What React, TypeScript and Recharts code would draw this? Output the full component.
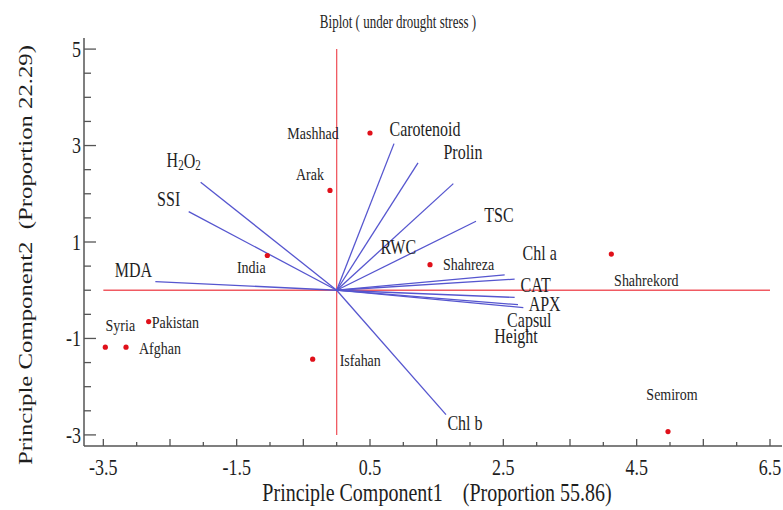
import React from "react";
import { ScatterChart, Scatter, XAxis, YAxis, ReferenceLine } from "recharts";

// genotype scores
const genotypes = ["India", "Arak", "Mashhad", "Pakistan", "Syria", "Afghan", "Isfahan", "Shahreza", "Shahrekord", "Semirom"];
const pc1Scores = [-1.04, -0.1, 0.5, -2.82, -3.47, -3.16, -0.36, 1.4, 4.12, 4.97];
const pc2Scores = [0.72, 2.07, 3.26, -0.65, -1.18, -1.18, -1.43, 0.53, 0.75, -2.93];

// trait loadings (vectors from origin)
const traits = ["H2O2", "SSI", "MDA", "Carotenoid", "Prolin", "RWC", "TSC", "Chl a", "CAT", "APX", "Capsul", "Height", "Chl b"];
const traitPc1 = [-2.04, -2.22, -2.72, 0.86, 1.22, 1.75, 2.09, 2.52, 2.67, 2.67, 2.8, 2.72, 1.64];
const traitPc2 = [2.24, 1.63, 0.18, 3.04, 2.64, 2.21, 1.43, 0.32, 0.23, -0.15, -0.36, -0.3, -2.58];

const xTicks = [-3.5, -3, -2.5, -2, -1.5, -1, -0.5, 0, 0.5, 1, 1.5, 2, 2.5, 3, 3.5, 4, 4.5, 5, 5.5, 6, 6.5];
const xTickLabels = [-3.5, -1.5, 0.5, 2.5, 4.5, 6.5];
const yTicks = [-3, -2.5, -2, -1.5, -1, -0.5, 0, 0.5, 1, 1.5, 2, 2.5, 3, 3.5, 4, 4.5, 5];
const yTickLabels = [-3, -1, 1, 3, 5];

const pointData = genotypes.map((name, i) => ({ name, x: pc1Scores[i], y: pc2Scores[i] }));
const traitData = traits.map((name, i) => ({ name, x: traitPc1[i], y: traitPc2[i] }));

// label placement in px relative to the mark: [dx, dy, anchor]
const pointLabelPos: Record<string, [number, number, string]> = {
  India: [-16, 11, "middle"],
  Arak: [-20, -16, "middle"],
  Mashhad: [-57, 0, "middle"],
  Pakistan: [3, 0, "start"],
  Syria: [15, -22, "middle"],
  Afghan: [13, 1, "start"],
  Isfahan: [27, 1, "start"],
  Shahreza: [13, -1, "start"],
  Shahrekord: [35, 26, "middle"],
  Semirom: [4, -38, "middle"],
};
const traitLabelPos: Record<string, [number, number]> = {
  H2O2: [-17, -22],
  SSI: [-20, -13],
  MDA: [-22, -12],
  Carotenoid: [31, -15],
  Prolin: [45, -11],
  RWC: [-55, 63],
  TSC: [23, -7],
  "Chl a": [35, -22],
  CAT: [21, 6],
  APX: [30, 6],
  Capsul: [6, 12],
  Height: [-2, 31],
  "Chl b": [19, 8],
};

const FONT = "'Liberation Serif', 'Times New Roman', serif";
const SY = 1.3;
const INK = "#1e1e1e";
const BLUE = "#5656cf";
const RED = "#f05a62";

function T({ x, y, size, anchor = "middle", sy = SY, central = true, children }: any) {
  return (
    <text
      transform={`translate(${x},${y}) scale(1,${sy})`}
      fontSize={size}
      fontFamily={FONT}
      fill={INK}
      textAnchor={anchor}
      dominantBaseline={central ? "central" : "auto"}
    >
      {children}
    </text>
  );
}

const BottomTick = (props: any) => {
  const { x, y, payload } = props;
  const v = payload.value;
  const major = Math.abs(((v + 3.5) % 1)) < 1e-6;
  return (
    <g>
      <line x1={x} x2={x} y1={y} y2={y - (major ? 7 : 4)} stroke="#555" strokeWidth={1.3} />
      {xTickLabels.includes(v) && (
        <T x={x} y={475} size={18} central={false}>{String(v)}</T>
      )}
    </g>
  );
};

const TopTick = (props: any) => {
  const { x, y, payload } = props;
  const major = Math.abs(((payload.value + 3.5) % 1)) < 1e-6;
  return <line x1={x} x2={x} y1={y} y2={y + (major ? 7 : 4)} stroke="#555" strokeWidth={1.3} />;
};

const LeftTick = (props: any) => {
  const { x, y, payload } = props;
  const v = payload.value;
  const major = yTickLabels.includes(v);
  return (
    <g>
      <line x1={x} x2={x + (major ? 12 : 7)} y1={y} y2={y} stroke="#555" strokeWidth={1.3} />
      {major && (
        <T x={x - 3} y={y} size={18} anchor="end">{String(v)}</T>
      )}
    </g>
  );
};

const RightTick = (props: any) => {
  const { x, y, payload } = props;
  const major = yTickLabels.includes(payload.value);
  return <line x1={x} x2={x - (major ? 7 : 4)} y1={y} y2={y} stroke="#555" strokeWidth={1.3} />;
};

const PointShape = (props: any) => {
  const { cx, cy, payload } = props;
  const [dx, dy, anchor] = pointLabelPos[payload.name];
  return (
    <g>
      <circle cx={cx} cy={cy} r={2.6} fill="#e0101a" />
      <T x={cx + dx} y={cy + dy} size={14} anchor={anchor} sy={1.25}>{payload.name}</T>
    </g>
  );
};

const TraitLabel = (props: any) => {
  const { cx, cy, payload } = props;
  const [dx, dy] = traitLabelPos[payload.name];
  if (payload.name === "H2O2") {
    return (
      <T x={cx + dx} y={cy + dy} size={16}>
        H<tspan fontSize={11} dy={4}>2</tspan>
        <tspan dy={-4}>O</tspan>
        <tspan fontSize={11} dy={4}>2</tspan>
      </T>
    );
  }
  return <T x={cx + dx} y={cy + dy} size={16}>{payload.name}</T>;
};

const NoShape = () => <g />;

export default function App() {
  return (
    <div style={{ position: "absolute", left: 0, top: 0, width: 783, height: 510, background: "#fff" }}>
      <ScatterChart width={783} height={510} margin={{ top: 38, right: 1, bottom: 0, left: 0 }}>
        <XAxis
          xAxisId="b"
          type="number"
          dataKey="x"
          orientation="bottom"
          domain={[-3.79, 6.68]}
          ticks={xTicks}
          interval={0}
          height={64}
          tickSize={0}
          tickMargin={0}
          tickLine={false}
          tick={BottomTick}
          axisLine={{ stroke: "#555", strokeWidth: 1.5 }}
          allowDataOverflow
        />
        <XAxis
          xAxisId="t"
          type="number"
          dataKey="x"
          orientation="top"
          domain={[-3.79, 6.68]}
          ticks={xTicks}
          interval={0}
          height={0}
          tickSize={0}
          tickMargin={0}
          tickLine={false}
          tick={TopTick}
          axisLine={{ stroke: "#555", strokeWidth: 1.5 }}
          allowDataOverflow
        />
        <YAxis
          yAxisId="l"
          type="number"
          dataKey="y"
          orientation="left"
          domain={[-3.23, 5.23]}
          ticks={yTicks}
          interval={0}
          width={84}
          tickSize={0}
          tickMargin={0}
          tickLine={false}
          tick={LeftTick}
          axisLine={{ stroke: "#555", strokeWidth: 1.5 }}
          allowDataOverflow
        />
        <YAxis
          yAxisId="r"
          type="number"
          dataKey="y"
          orientation="right"
          domain={[-3.23, 5.23]}
          ticks={yTicks}
          interval={0}
          width={0}
          tickSize={0}
          tickMargin={0}
          tickLine={false}
          tick={RightTick}
          axisLine={{ stroke: "#555", strokeWidth: 1.5 }}
          allowDataOverflow
        />
        <ReferenceLine xAxisId="b" yAxisId="l" segment={[{ x: 0, y: -3 }, { x: 0, y: 5 }]} stroke={RED} strokeWidth={1.3} />
        <ReferenceLine xAxisId="b" yAxisId="l" segment={[{ x: -3.5, y: 0 }, { x: 6.5, y: 0 }]} stroke={RED} strokeWidth={1.3} />
        {traitData.map((t) => (
          <Scatter
            key={t.name}
            xAxisId="b"
            yAxisId="l"
            data={[{ x: 0, y: 0 }, { x: t.x, y: t.y }]}
            line={{ stroke: BLUE, strokeWidth: 1.3 }}
            shape={NoShape}
            isAnimationActive={false}
          />
        ))}
        <Scatter xAxisId="b" yAxisId="l" data={traitData} shape={TraitLabel} isAnimationActive={false} />
        <Scatter xAxisId="b" yAxisId="l" data={pointData} shape={PointShape} isAnimationActive={false} />
        <T x={398} y={28} size={13} sy={1.5} central={false}>Biplot ( under drought stress )</T>
        <T x={437} y={501} size={20} central={false}>{"Principle Component1\u00a0\u00a0\u00a0 (Proportion 55.86)"}</T>
        <text
          transform="translate(32,255) rotate(-90)"
          fontSize={18}
          fontFamily={FONT}
          fill={INK}
          textAnchor="middle"
          textLength={420}
          lengthAdjust="spacingAndGlyphs"
        >
          {"Principle Component2\u00a0 (Proportion 22.29)"}
        </text>
      </ScatterChart>
    </div>
  );
}
